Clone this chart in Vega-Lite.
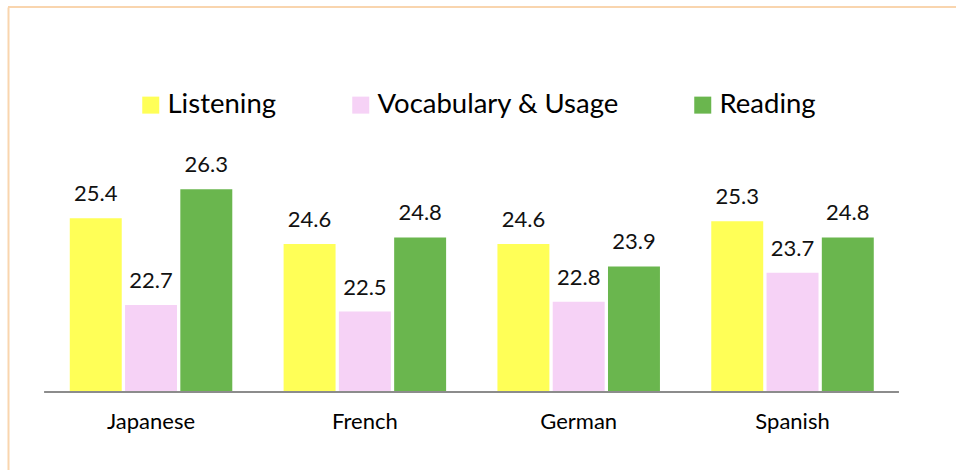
{
  "$schema": "https://vega.github.io/schema/vega-lite/v6.json",
  "width": 948,
  "height": 463,
  "autosize": "none",
  "padding": {"left": 8, "top": 7, "right": 0, "bottom": 0},
  "background": "white",
  "config": {
    "view": {"stroke": null},
    "font": "Lato",
    "legend": {
      "orient": "none",
      "legendX": 129,
      "legendY": 84,
      "direction": "horizontal",
      "title": null,
      "symbolType": "square",
      "symbolSize": 289,
      "symbolStrokeWidth": 0,
      "labelFont": "Lato",
      "labelFontSize": 27.5,
      "labelColor": "#000000",
      "labelOffset": 3,
      "labelLimit": 0,
      "columnPadding": 70,
      "padding": 0
    }
  },
  "data": {
    "values": [
      {"lang": "Japanese", "series": "Listening", "score": 25.4},
      {"lang": "Japanese", "series": "Vocabulary & Usage", "score": 22.7},
      {"lang": "Japanese", "series": "Reading", "score": 26.3},
      {"lang": "French", "series": "Listening", "score": 24.6},
      {"lang": "French", "series": "Vocabulary & Usage", "score": 22.5},
      {"lang": "French", "series": "Reading", "score": 24.8},
      {"lang": "German", "series": "Listening", "score": 24.6},
      {"lang": "German", "series": "Vocabulary & Usage", "score": 22.8},
      {"lang": "German", "series": "Reading", "score": 23.9},
      {"lang": "Spanish", "series": "Listening", "score": 25.3},
      {"lang": "Spanish", "series": "Vocabulary & Usage", "score": 23.7},
      {"lang": "Spanish", "series": "Reading", "score": 24.8}
    ]
  },
  "layer": [
    {
      "mark": {"type": "bar"},
      "encoding": {
        "x": {
          "field": "lang",
          "type": "nominal",
          "sort": ["Japanese", "French", "German", "Spanish"],
          "scale": {"domain": ["Japanese", "French", "German", "Spanish"], "paddingInner": 0.24, "paddingOuter": 0.3367, "align": 0.429},
          "axis": {
            "title": null,
            "orient": "bottom",
            "offset": -78,
            "domain": false,
            "ticks": false,
            "tickSize": 0,
            "labelAngle": 0,
            "labelFont": "Lato",
            "labelFontSize": 22,
            "labelColor": "#000000",
            "labelBaseline": "alphabetic",
            "labelPadding": 36
          }
        },
        "xOffset": {
          "field": "series",
          "type": "nominal",
          "sort": ["Listening", "Vocabulary & Usage", "Reading"],
          "scale": {"paddingInner": 0.06, "paddingOuter": 0}
        },
        "y": {
          "field": "score",
          "type": "quantitative",
          "scale": {"domain": [17.578, 31.957], "nice": false, "zero": false},
          "axis": {
            "title": null,
            "labels": false,
            "ticks": false,
            "grid": false,
            "domain": true,
            "domainColor": "#F9D5AE",
            "domainWidth": 2
          }
        },
        "y2": {"datum": 20},
        "color": {
          "field": "series",
          "type": "nominal",
          "sort": ["Listening", "Vocabulary & Usage", "Reading"],
          "scale": {
            "domain": ["Listening", "Vocabulary & Usage", "Reading"],
            "range": ["#FFFF57", "#F6D2F6", "#6AB64E"]
          }
        }
      }
    },
    {
      "mark": {"type": "text", "baseline": "alphabetic", "dy": -17, "fontSize": 22, "font": "Lato", "color": "#111111"},
      "encoding": {
        "x": {"field": "lang", "type": "nominal", "sort": ["Japanese", "French", "German", "Spanish"]},
        "xOffset": {
          "field": "series",
          "type": "nominal",
          "sort": ["Listening", "Vocabulary & Usage", "Reading"],
          "scale": {"paddingInner": 0.06, "paddingOuter": 0}
        },
        "y": {"field": "score", "type": "quantitative"},
        "text": {"field": "score", "type": "quantitative", "format": ".1f"}
      }
    },
    {
      "data": {"values": [{}]},
      "mark": {"type": "rule", "color": "#8C8C8C", "strokeWidth": 2},
      "encoding": {
        "x": {"datum": "Japanese", "bandPosition": -0.158},
        "x2": {"datum": "Spanish", "bandPosition": 1.155},
        "y": {"datum": 20}
      }
    },
    {
      "data": {"values": [{}]},
      "mark": {"type": "rule", "color": "#F9D5AE", "strokeWidth": 2},
      "encoding": {
        "y": {"datum": 31.957}
      }
    }
  ]
}
